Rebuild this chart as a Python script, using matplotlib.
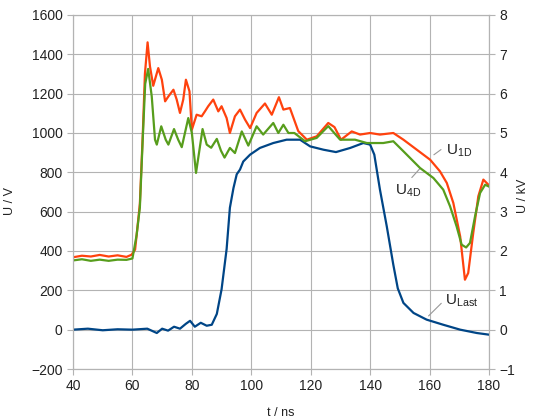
import matplotlib
matplotlib.use("Agg")
import matplotlib.pyplot as plt

plt.rcParams['font.family'] = ['Liberation Sans', 'DejaVu Sans']
plt.rcParams['mathtext.fontset'] = 'custom'
plt.rcParams['mathtext.rm'] = 'Liberation Sans'
plt.rcParams['mathtext.it'] = 'Liberation Sans'

# U1D (red)
t_1d = [40, 43, 46, 49, 52, 55, 58, 59.7, 60.9, 61.6, 62.5, 63.5, 64.2, 65.1, 65.9, 67, 68.7,
        69.9, 71, 72.1, 73.8, 74.9, 76, 77.1, 78, 79.2, 80, 81.6, 83.3, 84.4, 85.5, 87.2,
        88.9, 90, 91.7, 92.8, 94.5, 96.2, 97.9, 99.6, 101.8, 104.6, 106.9, 109.3, 110.8,
        113, 115.8, 118.7, 122, 125.9, 128, 130.2, 133.8, 136.6, 140, 143.3, 147.8, 151.2,
        155.7, 160.2, 163.5, 165.8, 168, 170.3, 171.9, 173, 174.7, 176.4, 178.1, 179.8]
u_1d = [368, 376, 372, 380, 372, 378, 370, 381, 407, 508, 640, 1000, 1300, 1461, 1339, 1240, 1330,
        1271, 1161, 1186, 1220, 1170, 1102, 1170, 1271, 1212, 1017, 1093, 1085, 1110, 1136, 1170,
        1110, 1136, 1076, 1000, 1085, 1119, 1068, 1025, 1102, 1150, 1093, 1182, 1119,
        1127, 1010, 966, 983, 1051, 1030, 966, 1008, 992, 1000, 992, 1000, 966,
        915, 864, 805, 746, 644, 474, 254, 288, 492, 678, 763, 737]

# U4D (green)
t_4d = [40, 43, 46, 49, 52, 55, 58, 60, 61.4, 62.5, 63.5, 64.3, 65.3, 66.5, 67.6, 68.2, 69.7,
        71.2, 72.1, 74, 75.4, 76.6, 78.8, 80, 81.4, 83.6, 85, 86.5, 88.4, 89.8, 91, 92.8,
        94.5, 96.8, 99, 101.8, 104, 107.4, 109.1, 110.8, 112.5, 114.5, 118.1, 122, 125.9,
        129.9, 132.7, 134.9, 138.9, 144.4, 147.8, 151.2, 156.8, 161.3, 164.6, 166.9, 169.1,
        170.8, 172.3, 173.6, 175.3, 177, 178.7, 179.8]
u_4d = [352, 358, 350, 356, 350, 356, 355, 362, 480, 620, 980, 1250, 1326, 1186, 966, 941, 1034,
        966, 941, 1020, 966, 928, 1076, 1000, 797, 1020, 941, 925, 970, 910, 875, 924,
        898, 1008, 936, 1034, 992, 1051, 1000, 1042, 1000, 1000, 958, 975, 1035,
        966, 966, 966, 949, 949, 958, 907, 822, 771, 712, 627, 525,
        432, 418, 441, 576, 695, 737, 729]

# U_Last (blue)
t_last = [40, 45, 50, 55, 60, 65, 68.2, 70, 72, 74, 76, 78, 79.4, 81, 83, 85, 86.7, 88.4, 90,
          91.7, 92.8, 94, 95.1, 96.2, 97.3, 99.6, 102.9, 107.4, 111.9, 116.4, 119.8, 124.3,
          128.5, 133.3, 137.7, 140, 141.4, 143.3, 145.6, 147.8, 149.3, 151.2, 154.6, 159,
          164.6, 170.3, 175.9, 179.8]
u_last = [0, 5, -3, 2, 0, 5, -17, 5, -5, 15, 5, 30, 45, 15, 35, 20, 25, 80, 205,
          410, 620, 720, 790, 814, 855, 890, 924, 949, 966, 966, 932, 915,
          903, 924, 949, 941, 890, 712, 525, 330, 210, 136, 85, 51,
          25, 0, -17, -25]

red = '#ff420e'
green = '#579d1c'
blue = '#004586'
grid_c = '#b3b3b3'
text_c = '#222222'

fig = plt.figure(figsize=(5.35, 4.19), dpi=100)
ax = fig.add_axes([73 / 535, 1 - 369 / 419, 416 / 535, 354 / 419])

ax.plot(t_last, u_last, color=blue, lw=1.6, zorder=3)
ax.plot(t_4d, u_4d, color=green, lw=1.6, zorder=4)
ax.plot(t_1d, u_1d, color=red, lw=1.6, zorder=2)

ax.set_xlim(40, 180)
ax.set_ylim(-200, 1600)
ax.set_xticks(range(40, 181, 20))
ax.set_yticks(range(-200, 1601, 200))
ax.grid(True, color=grid_c, lw=0.8)
ax.set_axisbelow(True)

ax2 = ax.twinx()
ax2.set_ylim(-1, 8)
ax2.set_yticks(range(-1, 9))

for a in (ax, ax2):
    for s in a.spines.values():
        s.set_color(grid_c)
        s.set_linewidth(0.8)
    a.tick_params(colors=grid_c, labelcolor=text_c, labelsize=10, length=4, width=0.8)

ax.set_xlabel('t / ns', fontsize=9, color=text_c, labelpad=10)
fig.text(10 / 535, 1 - 201 / 419, 'U / V', fontsize=9, color=text_c,
         rotation=90, ha='center', va='center')
fig.text(523 / 535, 1 - 196 / 419, 'U / kV', fontsize=9, color=text_c,
         rotation=90, ha='center', va='center')

lead = dict(arrowstyle='-', color='#999999', lw=0.8)
ax.annotate('', xy=(160.7, 881), xytext=(164.6, 924), arrowprops=lead)
ax.text(165.5, 890, r'$\mathregular{U_{1D}}$', fontsize=11, color=text_c, va='baseline')
ax.annotate('', xy=(153.4, 763), xytext=(157.4, 830), arrowprops=lead)
ax.text(148.4, 686, r'$\mathregular{U_{4D}}$', fontsize=11, color=text_c, va='baseline')
ax.annotate('', xy=(159, 60), xytext=(164.6, 144), arrowprops=lead)
ax.text(165.2, 127, r'$\mathregular{U_{Last}}$', fontsize=11, color=text_c, va='baseline')

fig.savefig('out.png', dpi=100)
